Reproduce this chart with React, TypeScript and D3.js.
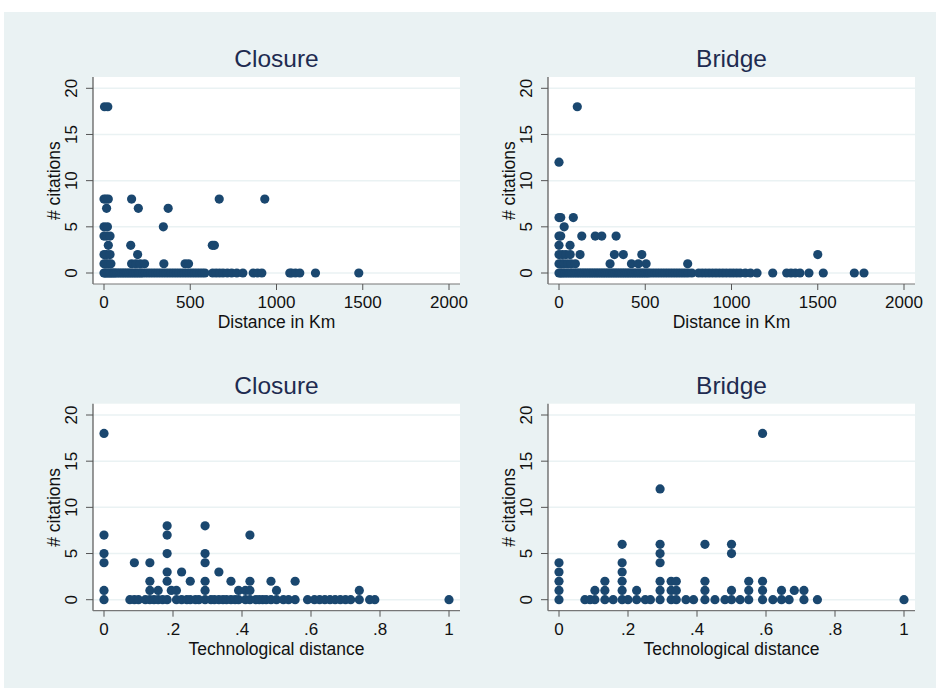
import React from "react";
import * as d3 from "d3";

type Pt = [number, number];

const closureKm: Pt[] = [
  [3, 18], [22, 18],
  [0, 8], [12, 8], [25, 8], [160, 8], [668, 8], [932, 8],
  [15, 7], [199, 7], [372, 7],
  [0, 5], [20, 5], [344, 5],
  [0, 4], [15, 4], [35, 4],
  [25, 3], [155, 3], [628, 3], [640, 3],
  [0, 2], [15, 2], [35, 2], [195, 2],
  [0, 1], [12, 1], [25, 1], [40, 1], [160, 1], [185, 1], [210, 1], [235, 1], [347, 1], [470, 1], [490, 1],
  [0, 0], [5, 0], [12, 0], [20, 0], [28, 0], [35, 0], [42, 0], [50, 0], [58, 0], [65, 0], [75, 0], [85, 0],
  [95, 0], [105, 0], [115, 0], [125, 0], [135, 0], [145, 0], [155, 0], [165, 0], [175, 0], [185, 0],
  [195, 0], [205, 0], [215, 0], [225, 0], [240, 0], [255, 0], [270, 0], [285, 0], [300, 0], [315, 0],
  [330, 0], [345, 0], [360, 0], [375, 0], [390, 0], [405, 0], [420, 0], [435, 0], [450, 0], [465, 0],
  [480, 0], [495, 0], [510, 0], [525, 0], [540, 0], [555, 0], [570, 0], [585, 0],
  [630, 0], [650, 0], [670, 0], [690, 0], [715, 0], [740, 0], [770, 0], [805, 0], [865, 0], [890, 0],
  [915, 0], [1077, 0], [1087, 0], [1110, 0], [1135, 0], [1226, 0], [1477, 0],
];

const bridgeKm: Pt[] = [
  [106, 18],
  [0, 12],
  [0, 6], [10, 6], [83, 6],
  [30, 5],
  [0, 4], [10, 4], [132, 4], [210, 4], [248, 4], [331, 4],
  [0, 3], [64, 3],
  [0, 2], [20, 2], [40, 2], [65, 2], [122, 2], [321, 2], [373, 2], [480, 2], [1500, 2],
  [0, 1], [15, 1], [30, 1], [50, 1], [70, 1], [95, 1], [296, 1], [420, 1], [460, 1], [505, 1], [746, 1],
  [0, 0], [8, 0], [16, 0], [25, 0], [35, 0], [45, 0], [55, 0], [65, 0], [75, 0], [85, 0], [95, 0],
  [105, 0], [115, 0], [125, 0], [135, 0], [145, 0], [155, 0], [165, 0], [175, 0], [185, 0], [195, 0],
  [205, 0], [215, 0], [225, 0], [235, 0], [245, 0], [255, 0], [265, 0], [275, 0], [285, 0], [295, 0],
  [305, 0], [315, 0], [325, 0], [335, 0], [345, 0], [355, 0], [365, 0], [375, 0], [385, 0], [395, 0],
  [405, 0], [415, 0], [425, 0], [435, 0], [445, 0], [455, 0], [465, 0], [475, 0], [485, 0], [495, 0],
  [505, 0], [515, 0], [525, 0], [540, 0], [555, 0], [570, 0], [585, 0], [600, 0], [615, 0], [630, 0],
  [645, 0], [660, 0], [675, 0], [690, 0], [705, 0], [720, 0], [735, 0], [750, 0], [770, 0], [810, 0],
  [830, 0], [850, 0], [870, 0], [890, 0], [910, 0], [930, 0], [950, 0], [970, 0], [991, 0], [1010, 0],
  [1030, 0], [1050, 0], [1080, 0], [1110, 0], [1148, 0], [1239, 0], [1320, 0], [1345, 0], [1370, 0],
  [1397, 0], [1449, 0], [1532, 0], [1712, 0], [1768, 0],
];

const closureTech: Pt[] = [
  [0, 18], [0, 7], [0, 5], [0, 4], [0, 1], [0, 0],
  [0.075, 0], [0.088, 4], [0.088, 0], [0.1, 0],
  [0.12, 0], [0.133, 4], [0.133, 2], [0.133, 1], [0.133, 0], [0.145, 0],
  [0.157, 1], [0.157, 0], [0.17, 0],
  [0.183, 8], [0.183, 7], [0.183, 5], [0.183, 3], [0.183, 2], [0.183, 0],
  [0.195, 1], [0.21, 1], [0.21, 0],
  [0.225, 3], [0.225, 0], [0.24, 0], [0.25, 2], [0.25, 0], [0.265, 0], [0.275, 0],
  [0.293, 8], [0.293, 5], [0.293, 4], [0.293, 2], [0.293, 1], [0.293, 0],
  [0.31, 0], [0.32, 0], [0.333, 3], [0.333, 0], [0.345, 0], [0.355, 0],
  [0.368, 2], [0.368, 0], [0.38, 0], [0.39, 1], [0.39, 0], [0.41, 1], [0.41, 0],
  [0.423, 7], [0.423, 2], [0.423, 1], [0.423, 0], [0.44, 0], [0.45, 0], [0.46, 0], [0.47, 0],
  [0.484, 2], [0.484, 0], [0.5, 1], [0.5, 0], [0.52, 0], [0.535, 0],
  [0.554, 2], [0.554, 0], [0.59, 0], [0.61, 0], [0.625, 0], [0.64, 0], [0.655, 0], [0.67, 0],
  [0.685, 0], [0.7, 0], [0.715, 0], [0.74, 1], [0.74, 0], [0.77, 0], [0.785, 0], [1.0, 0],
];

const bridgeTech: Pt[] = [
  [0, 4], [0, 3], [0, 2], [0, 1], [0, 0],
  [0.075, 0], [0.09, 0], [0.104, 1], [0.104, 0],
  [0.133, 2], [0.133, 1], [0.133, 0], [0.157, 0],
  [0.183, 6], [0.183, 4], [0.183, 3], [0.183, 2], [0.183, 1], [0.183, 0],
  [0.2, 0], [0.225, 1], [0.225, 0], [0.25, 0], [0.265, 0],
  [0.293, 12], [0.293, 6], [0.293, 5], [0.293, 4], [0.293, 2], [0.293, 1], [0.293, 0],
  [0.325, 2], [0.325, 1], [0.325, 0], [0.34, 2], [0.34, 1], [0.34, 0],
  [0.368, 0], [0.39, 0],
  [0.423, 6], [0.423, 2], [0.423, 1], [0.423, 0], [0.452, 0], [0.481, 0],
  [0.5, 6], [0.5, 5], [0.5, 1], [0.5, 0], [0.525, 0],
  [0.55, 2], [0.55, 1], [0.55, 0],
  [0.59, 18], [0.59, 2], [0.59, 1], [0.59, 0],
  [0.62, 0], [0.645, 1], [0.645, 0], [0.667, 0], [0.682, 1], [0.71, 1], [0.71, 0], [0.749, 0], [1.0, 0],
];

const yTicks = [0, 5, 10, 15, 20];
const kmTicks = [0, 500, 1000, 1500, 2000];
const techTicks = [0, 0.2, 0.4, 0.6, 0.8, 1];
const techTickLabels = ["0", ".2", ".4", ".6", ".8", "1"];
const panelTitles = ["Closure", "Bridge", "Closure", "Bridge"];
const xTitles = ["Distance in Km", "Distance in Km", "Technological distance", "Technological distance"];

const FONT = "'Liberation Sans', Arial, Helvetica, sans-serif";
const BG = "#eaf2f3";
const MARK = "#1a476f";

function Panel(props: {
  ox: number; oy: number; data: Pt[]; xDomain: [number, number]; ticks: number[];
  tickLabels: string[]; title: string; xTitle: string;
}) {
  const { ox, oy, data, xDomain, ticks, tickLabels, title, xTitle } = props;
  const x = d3.scaleLinear().domain(xDomain).range([ox + 104, ox + 449]);
  const y = d3.scaleLinear().domain([0, 20]).range([oy + 273, oy + 88.3]);
  const left = ox + 93;
  const right = ox + 460;
  const top = oy + 77;
  const bottom = oy + 284;
  const cx = (x.range()[0] + x.range()[1]) / 2;
  const cy = (y.range()[0] + y.range()[1]) / 2;
  return (
    <g>
      <rect x={left} y={top} width={right - left} height={bottom - top} fill="#ffffff" />
      {yTicks.map((t) => (
        <line key={"g" + t} x1={left} x2={right} y1={y(t)} y2={y(t)} stroke={BG} strokeWidth={1.5} />
      ))}
      {data.map((d, i) => (
        <circle key={i} cx={x(d[0])} cy={y(d[1])} r={4.6} fill={MARK} />
      ))}
      <line x1={left} x2={left} y1={top} y2={bottom} stroke="#555" strokeWidth={1.2} />
      <line x1={left} x2={right} y1={bottom} y2={bottom} stroke="#777" strokeWidth={1.2} />
      {yTicks.map((t) => (
        <g key={"y" + t}>
          <line x1={left - 7} x2={left} y1={y(t)} y2={y(t)} stroke="#555" strokeWidth={1} />
          <text x={ox + 77} y={y(t)} transform={`rotate(-90, ${ox + 77}, ${y(t)})`} textAnchor="middle"
            fontSize={17} fontFamily={FONT} fill="#111">{t}</text>
        </g>
      ))}
      {ticks.map((t, i) => (
        <g key={"x" + t}>
          <line x1={x(t)} x2={x(t)} y1={bottom} y2={bottom + 6} stroke="#555" strokeWidth={1} />
          <text x={x(t)} y={oy + 308} textAnchor="middle" fontSize={17} fontFamily={FONT} fill="#111">{tickLabels[i]}</text>
        </g>
      ))}
      <text x={cx} y={oy + 328} textAnchor="middle" fontSize={17.5} fontFamily={FONT} fill="#111">{xTitle}</text>
      <text x={ox + 60} y={cy} transform={`rotate(-90, ${ox + 60}, ${cy})`} textAnchor="middle"
        fontSize={17.5} fontFamily={FONT} fill="#111"># citations</text>
      <text x={cx} y={oy + 67} textAnchor="middle" fontSize={24.5} fontFamily={FONT} fill="#1e2b50">{title}</text>
    </g>
  );
}

export default function App() {
  const kmLabels = kmTicks.map((t) => String(t));
  return (
    <div style={{ position: "absolute", left: 0, top: 0 }}>
      <svg width={936} height={689} style={{ display: "block" }}>
        <rect x={0} y={0} width={936} height={689} fill="#ffffff" />
        <rect x={4} y={12} width={932} height={676} fill={BG} />
        <Panel ox={0} oy={0} data={closureKm} xDomain={[0, 2000]} ticks={kmTicks} tickLabels={kmLabels}
          title={panelTitles[0]} xTitle={xTitles[0]} />
        <Panel ox={455} oy={0} data={bridgeKm} xDomain={[0, 2000]} ticks={kmTicks} tickLabels={kmLabels}
          title={panelTitles[1]} xTitle={xTitles[1]} />
        <Panel ox={0} oy={326.7} data={closureTech} xDomain={[0, 1]} ticks={techTicks} tickLabels={techTickLabels}
          title={panelTitles[2]} xTitle={xTitles[2]} />
        <Panel ox={455} oy={326.7} data={bridgeTech} xDomain={[0, 1]} ticks={techTicks} tickLabels={techTickLabels}
          title={panelTitles[3]} xTitle={xTitles[3]} />
      </svg>
    </div>
  );
}
